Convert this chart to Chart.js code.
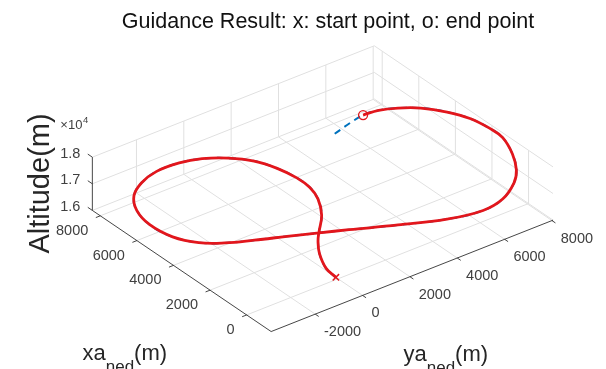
<!DOCTYPE html>
<html>
<head>
<meta charset="utf-8">
<script src="https://cdn.jsdelivr.net/npm/chart.js@4"></script>
<style>
  html, body { margin: 0; padding: 0; background: #fff; }
  #wrap { width: 606px; height: 369px; }
</style>
</head>
<body>
<div id="wrap"><canvas id="guidance" width="606" height="369"></canvas></div>
<script>
// Trajectory samples (m)
const pathX = [120, 730, 1560, 2210, 2580, 3370, 4220, 4920, 5620, 6450, 7200, 7810, 8220, 8400, 8340,
  8010, 7460, 6620, 5560, 4400, 3510, 2890, 2340, 1780, 1220, 680, -200, -1040, -1430, -1310,
  -780, -210, 640, 1600, 2310, 3130, 3850, 4500, 4890, 5110, 5130];
const pathY = [0, 60, 420, 860, 1180, 1910, 2410, 2610, 2600, 2410, 2020, 1390, 610, -220, -1240,
  -2110, -2860, -3390, -3660, -3590, -3170, -2550, -1730, -780, 140, 990, 2380, 3800, 5020, 5940,
  6830, 7370, 7860, 8190, 8180, 7990, 7580, 6970, 6310, 5660, 5020];
const pathZ = [16000, 16030, 16070, 16090, 16110, 16150, 16190, 16220, 16260, 16300, 16360, 16410, 16470, 16520, 16580,
  16620, 16650, 16680, 16730, 16790, 16840, 16900, 16970, 17040, 17110, 17180, 17280, 17390, 17470, 17520,
  17570, 17600, 17630, 17680, 17710, 17760, 17810, 17870, 17920, 17960, 18000];

// reference path tail beyond the end point (blue dashed)
const refTailX = [4700];
const refTailY = [3340];
const refTailZ = [18000];

// axes
const xLim = [-1340, 8435];
const yLim = [-3863, 8046];
const zLim = [16000, 18000];
const xTicks = [0, 2000, 4000, 6000, 8000];
const yTicks = [-2000, 0, 2000, 4000, 6000, 8000];
const zTicks = [16000, 17000, 18000];
const zTickLabels = ["1.6", "1.7", "1.8"];

// view: screen position of the (xmin, ymin, zmin) corner and unit steps along each axis
const corner = [270.5, 336.5];
const ex = [-0.01866, -0.01281];
const ey = [0.02415, -0.00967];
const ez = [0, -0.0275];

function proj(x, y, z) {
  const dx = x - xLim[0], dy = y - yLim[0], dz = z - zLim[0];
  return {
    x: corner[0] + dx * ex[0] + dy * ey[0] + dz * ez[0],
    y: corner[1] + dx * ex[1] + dy * ey[1] + dz * ez[1]
  };
}

function lines(list) {
  const pts = [];
  list.forEach(([a, b]) => {
    pts.push(proj(...a), proj(...b), { x: null, y: null });
  });
  return pts;
}

// grid on floor and two back walls
const gridSegs = [];
xTicks.forEach(t => {
  gridSegs.push([[t, yLim[0], zLim[0]], [t, yLim[1], zLim[0]]]);
  gridSegs.push([[t, yLim[1], zLim[0]], [t, yLim[1], zLim[1]]]);
});
yTicks.forEach(t => {
  gridSegs.push([[xLim[0], t, zLim[0]], [xLim[1], t, zLim[0]]]);
  gridSegs.push([[xLim[1], t, zLim[0]], [xLim[1], t, zLim[1]]]);
});
zTicks.forEach(t => {
  gridSegs.push([[xLim[1], yLim[0], t], [xLim[1], yLim[1], t]]);
  gridSegs.push([[xLim[0], yLim[1], t], [xLim[1], yLim[1], t]]);
});

const axisSegs = [
  [[xLim[0], yLim[0], zLim[0]], [xLim[1], yLim[0], zLim[0]]],
  [[xLim[0], yLim[0], zLim[0]], [xLim[0], yLim[1], zLim[0]]],
  [[xLim[1], yLim[0], zLim[0]], [xLim[1], yLim[0], zLim[1]]]
];
xTicks.forEach(t => axisSegs.push([[t, yLim[0], zLim[0]], [t, yLim[0] - 190, zLim[0]]]));
yTicks.forEach(t => axisSegs.push([[xLim[0], t, zLim[0]], [xLim[0] - 190, t, zLim[0]]]));
zTicks.forEach(t => axisSegs.push([[xLim[1], yLim[0], t], [xLim[1] + 250, yLim[0], t]]));

const path = pathX.map((x, i) => proj(x, pathY[i], pathZ[i]));
const refPath = path.concat(refTailX.map((x, i) => proj(x, refTailY[i], refTailZ[i])));
const last = pathX.length - 1;

const RED = "rgb(226,22,28)";
const FONT = '"Liberation Sans", Arial, Helvetica, sans-serif';

const labels = {
  id: "labels",
  afterDraw(chart) {
    const ctx = chart.ctx;
    const sx = chart.scales.x, sy = chart.scales.y;
    const px = p => ({ x: sx.getPixelForValue(p.x), y: sy.getPixelForValue(p.y) });
    ctx.save();

    ctx.fillStyle = "#111";
    ctx.font = "21.5px " + FONT;
    ctx.textAlign = "center";
    ctx.textBaseline = "alphabetic";
    ctx.fillText("Guidance Result: x: start point, o: end point", 328, 28);

    ctx.fillStyle = "#404040";
    ctx.font = "14.5px " + FONT;
    ctx.textBaseline = "middle";
    ctx.textAlign = "right";
    xTicks.forEach(t => {
      const p = px(proj(t, yLim[0], zLim[0]));
      ctx.fillText(String(t), p.x - 12, p.y + 15);
    });
    ctx.textAlign = "left";
    yTicks.forEach(t => {
      const p = px(proj(xLim[0], t, zLim[0]));
      ctx.fillText(String(t), p.x + 8.8, p.y + 18);
    });
    ctx.textAlign = "right";
    zTicks.forEach((t, i) => {
      const p = px(proj(xLim[1], yLim[0], t));
      ctx.fillText(zTickLabels[i], p.x - 12, p.y - 3.5);
    });

    // exponent
    const top = px(proj(xLim[1], yLim[0], zLim[1]));
    ctx.textAlign = "left";
    ctx.textBaseline = "alphabetic";
    ctx.font = "13px " + FONT;
    ctx.fillText("\u00d710", top.x - 32, top.y - 28);
    const w = ctx.measureText("\u00d710").width;
    ctx.font = "9.5px " + FONT;
    ctx.fillText("4", top.x - 32 + w + 0.5, top.y - 34);

    // axis titles
    ctx.fillStyle = "#262626";
    function subLabel(main, sub, unit, x, y) {
      ctx.font = "22px " + FONT;
      ctx.fillText(main, x, y);
      let cx = x + ctx.measureText(main).width;
      ctx.font = "17px " + FONT;
      ctx.fillText(sub, cx, y + 12);
      cx += ctx.measureText(sub).width;
      ctx.font = "22px " + FONT;
      ctx.fillText(unit, cx, y);
    }
    subLabel("xa", "ned", "(m)", 82.5, 359.5);
    subLabel("ya", "ned", "(m)", 403.5, 360.7);

    ctx.translate(48.5, 183.5);
    ctx.rotate(-Math.PI / 2);
    ctx.textAlign = "center";
    ctx.font = "29px " + FONT;
    ctx.fillText("Altitude(m)", 0, 0);
    ctx.restore();
  }
};

new Chart(document.getElementById("guidance"), {
  type: "scatter",
  data: {
    datasets: [
      { data: [path[0]], pointStyle: "crossRot", pointRadius: 4.5, borderColor: RED, borderWidth: 1.5, order: 0 },
      { data: [path[last]], pointStyle: "circle", pointRadius: 4.5, borderColor: RED, backgroundColor: "rgba(0,0,0,0)", borderWidth: 1.3, order: 0 },
      { data: path, showLine: true, borderColor: RED, borderWidth: 2.8, tension: 0.4, pointRadius: 0, order: 2 },
      { data: refPath, showLine: true, borderColor: "#0072bd", borderWidth: 2, borderDash: [7, 5], tension: 0.4, pointRadius: 0, order: 4 },
      { data: lines(axisSegs), showLine: true, borderColor: "rgba(38,38,38,0.85)", borderWidth: 1, pointRadius: 0, order: 8 },
      { data: lines(gridSegs), showLine: true, borderColor: "#e0e0e0", borderWidth: 1, pointRadius: 0, order: 10 }
    ]
  },
  options: {
    responsive: false,
    devicePixelRatio: 1,
    animation: false,
    layout: { padding: 0 },
    scales: {
      x: { type: "linear", min: 0, max: 606, display: false },
      y: { type: "linear", min: 0, max: 369, reverse: true, display: false }
    },
    plugins: { legend: { display: false }, tooltip: { enabled: false } }
  },
  plugins: [labels]
});
</script>
</body>
</html>
